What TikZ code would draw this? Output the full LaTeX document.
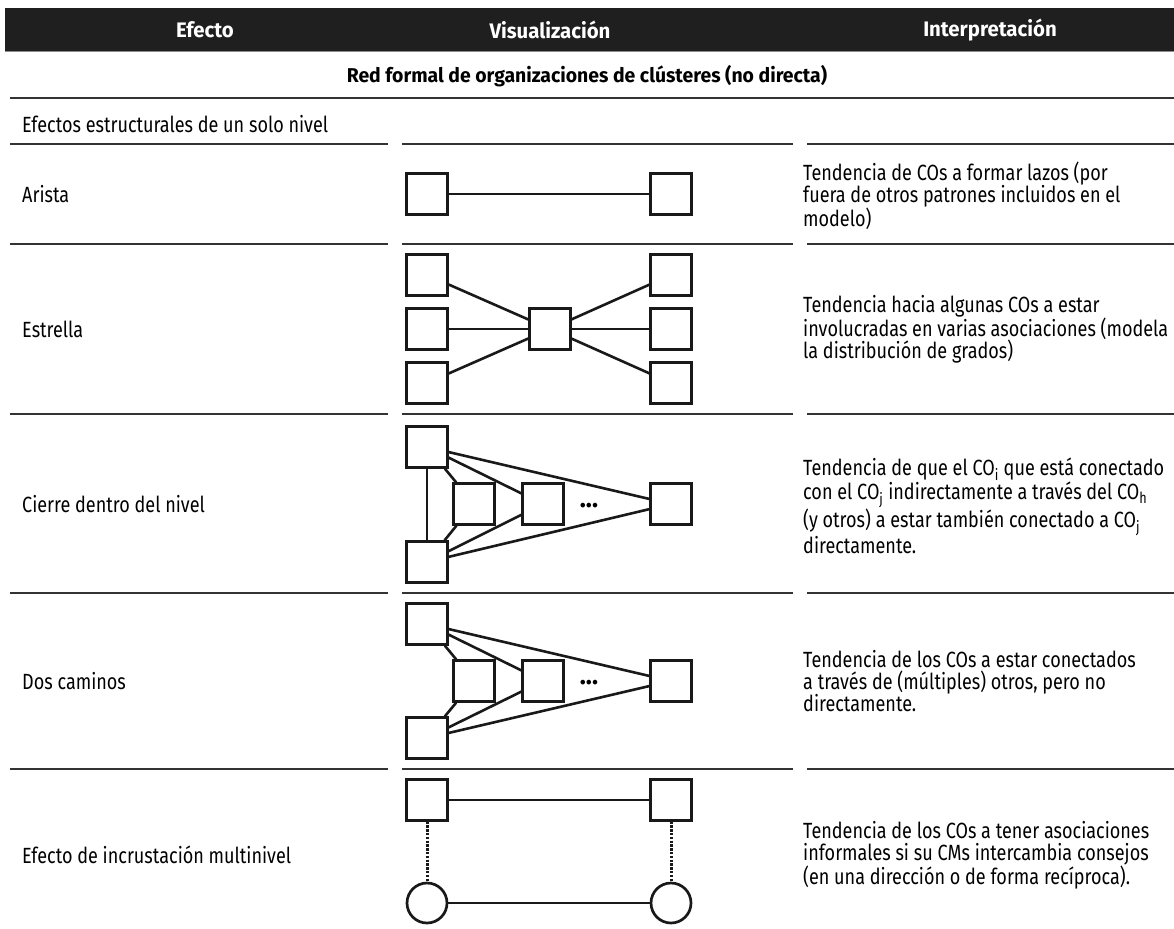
\documentclass[tikz,border=0pt]{standalone}
\usepackage{fontspec}
\setmainfont{Fira Sans}[FakeStretch=0.82]
\newfontfamily\negrita{Fira Sans}[FakeStretch=0.97]
\usetikzlibrary{positioning}
\newcommand\COsub[1]{CO\textsubscript{#1}}
\tikzset{
  conodo/.style={
    rectangle,
    draw=black!90, line width=2.7pt,
    minimum size=40.5pt,
    inner sep=0pt},
  cmnodo/.style={
    circle,
    draw=black!90, line width=2.7pt,
    minimum size=40pt,
    inner sep=0pt},
  tie/.style={draw=black!90, line width=2.6pt},
  nest/.style={draw=black!90, line width=3pt, dash pattern=on 2.4pt off 1.4pt},
  rule/.style={draw=black!80, line width=1.8pt},
  efecto/.style={anchor=west, inner sep=0pt, font=\fontsize{22}{22}\selectfont},
  interp/.style={anchor=west, align=left, inner sep=0pt, font=\fontsize{22}{22}\selectfont},
  encabezado/.style={text=white, font=\fontsize{21}{22}\selectfont\negrita\bfseries},
  puntos/.style={inner sep=0pt, font=\fontsize{26}{26}\selectfont\negrita\bfseries},
}

\begin{document}
\begin{tikzpicture}[x=1pt, y=-1pt]
     \useasboundingbox (0,0) rectangle (1174,928);
     % encabezado
     \fill[black!88] (5,8) rectangle (1174,52);
     \draw[black!45, line width=1pt] (5,52) -- (1174,52);
     \node[encabezado] (hEfecto) at (205,30) {Efecto};
     \node[encabezado] (hVisual) at (550,30) {Visualización};
     \node[encabezado] (hInterp) at (990,30) {Interpretación};
     \node[font=\fontsize{20}{22}\selectfont\negrita\bfseries] (titulo) at (587,76) {Red formal de organizaciones de clústeres (no directa)};
     \draw[rule] (10,98) -- (1174,98);
     \node[efecto] (nivel) at (22,124) {Efectos estructurales de un solo nivel};
     % separadores de filas
     \foreach \y in {144,244,414,593,769}{
       \draw[rule] (10,\y) -- (388,\y);
       \draw[rule] (402,\y) -- (793,\y);
       \draw[rule] (807,\y) -- (1174,\y);
     }
     % Arista
     \node[efecto] (tArista) at (22,194) {Arista};
     \node[conodo] (ar1) at (427,194) {};
     \node[conodo] (ar2) at (671,194) {};
     \draw[tie] (ar1) -- (ar2);
     \node[interp] (iArista) at (803,196) {Tendencia de COs a formar lazos (por\\fuera de otros patrones incluidos en el\\modelo)};
     % Estrella
     \node[efecto] (tEstrella) at (22,329) {Estrella};
     \node[conodo] (esC) at (550,329) {};
     \foreach \i/\y in {1/275,2/329,3/383}{
       \node[conodo] (esL\i) at (427,\y) {};
       \node[conodo] (esR\i) at (671,\y) {};
       \draw[tie] (esL\i) -- (esC);
       \draw[tie] (esC) -- (esR\i);
     }
     \node[interp] (iEstrella) at (803,329) {Tendencia hacia algunas COs a estar\\involucradas en varias asociaciones (modela\\la distribución de grados)};
     % Cierre dentro del nivel
     \node[efecto] (tCierre) at (22,504) {Cierre dentro del nivel};
     \node[conodo] (ciT) at (427,447) {};
     \node[conodo] (ciB) at (427,562) {};
     \node[conodo] (ciA) at (474,504) {};
     \node[conodo] (ciM) at (543,504) {};
     \node[conodo] (ciR) at (671,504) {};
     \node[puntos] (ciDots) at (589,506) {...};
     \draw[tie] (ciT) -- (ciB);
     \draw[tie] (ciT) -- (ciA);
     \draw[tie] (ciT) -- (ciM);
     \draw[tie] (ciT) -- (ciR);
     \draw[tie] (ciB) -- (ciA);
     \draw[tie] (ciB) -- (ciM);
     \draw[tie] (ciB) -- (ciR);
     \node[interp] (iCierre) at (803,506) {Tendencia de que el \COsub{i} que está conectado\\con el \COsub{j} indirectamente a través del \COsub{h}\\(y otros) a estar también conectado a \COsub{j}\\directamente.};
     % Dos caminos
     \node[efecto] (tCaminos) at (22,681) {Dos caminos};
     \node[conodo] (dcT) at (427,624) {};
     \node[conodo] (dcB) at (427,738) {};
     \node[conodo] (dcA) at (474,681) {};
     \node[conodo] (dcM) at (543,681) {};
     \node[conodo] (dcR) at (671,681) {};
     \node[puntos] (dcDots) at (589,683) {...};
     \draw[tie] (dcT) -- (dcA);
     \draw[tie] (dcT) -- (dcM);
     \draw[tie] (dcT) -- (dcR);
     \draw[tie] (dcB) -- (dcA);
     \draw[tie] (dcB) -- (dcM);
     \draw[tie] (dcB) -- (dcR);
     \node[interp] (iCaminos) at (803,681) {Tendencia de los COs a estar conectados\\a través de (múltiples) otros, pero no\\directamente.};
     % Efecto de incrustacion multinivel
     \node[efecto] (tMulti) at (22,855) {Efecto de incrustación multinivel};
     \node[conodo] (muCO1) at (427,800) {};
     \node[conodo] (muCO2) at (671,800) {};
     \node[cmnodo] (muCM1) at (427,903) {};
     \node[cmnodo] (muCM2) at (671,903) {};
     \draw[tie] (muCO1) -- (muCO2);
     \draw[tie] (muCM1) -- (muCM2);
     \draw[nest] (muCO1) -- (muCM1);
     \draw[nest] (muCO2) -- (muCM2);
     \node[interp] (iMulti) at (803,855) {Tendencia de los COs a tener asociaciones\\informales si su CMs intercambia consejos\\(en una dirección o de forma recíproca).};
\end{tikzpicture}
\end{document}
